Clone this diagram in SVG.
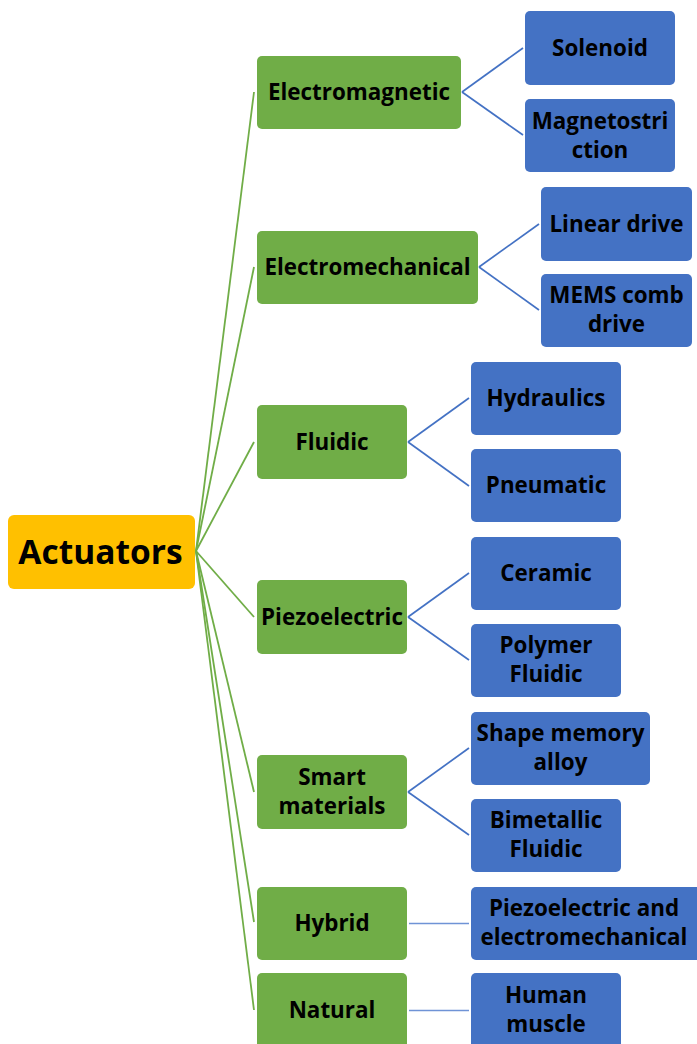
<svg xmlns="http://www.w3.org/2000/svg" width="697" height="1044" viewBox="0 0 697 1044">
  <style>
    text { font-family: "Open Sans", "Noto Sans", "Liberation Sans", sans-serif; font-weight: 700; fill: #000; text-anchor: middle; }
    .lbl { font-size: 22.4px; }
    .root-lbl { font-size: 33.5px; }
    .root { fill: #FFC000; }
    .cat { fill: #70AD47; }
    .leaf { fill: #4472C4; }
    .link-g { stroke: #70AD47; stroke-width: 1.8; fill: none; }
    .link-b { stroke: #4472C4; stroke-width: 1.7; fill: none; }
    .link-h { stroke: #6F93D6; stroke-width: 1.3; fill: none; }
  </style>
  <rect width="697" height="1044" fill="#ffffff"/>

  <!-- connectors -->
  <g id="connectors">
    <line class="link-g" x1="196" y1="551" x2="254" y2="92"/>
    <line class="link-g" x1="196" y1="551" x2="254" y2="267"/>
    <line class="link-g" x1="196" y1="551" x2="254" y2="442"/>
    <line class="link-g" x1="196" y1="551" x2="254" y2="617"/>
    <line class="link-g" x1="196" y1="551" x2="254" y2="792"/>
    <line class="link-g" x1="196" y1="551" x2="254" y2="922"/>
    <line class="link-g" x1="196" y1="551" x2="254" y2="1010"/>

    <line class="link-b" x1="462" y1="92" x2="523" y2="48"/>
    <line class="link-b" x1="462" y1="92" x2="523" y2="135"/>
    <line class="link-b" x1="479" y1="267" x2="539" y2="224"/>
    <line class="link-b" x1="479" y1="267" x2="539" y2="310"/>
    <line class="link-b" x1="408" y1="442" x2="469" y2="398"/>
    <line class="link-b" x1="408" y1="442" x2="469" y2="486"/>
    <line class="link-b" x1="408" y1="617" x2="469" y2="573"/>
    <line class="link-b" x1="408" y1="617" x2="469" y2="660"/>
    <line class="link-b" x1="408" y1="792" x2="469" y2="748"/>
    <line class="link-b" x1="408" y1="792" x2="469" y2="835"/>
    <line class="link-h" x1="409" y1="923.5" x2="469" y2="923.5"/>
    <line class="link-h" x1="409" y1="1010.5" x2="469" y2="1010.5"/>
  </g>

  <!-- root -->
  <g id="actuators">
    <rect class="root" x="8" y="515" width="187" height="74" rx="6"/>
    <text class="root-lbl" x="100.5" y="563.5">Actuators</text>
  </g>

  <!-- categories -->
  <g id="electromagnetic">
    <rect class="cat" x="257" y="56" width="204" height="73" rx="5"/>
    <text class="lbl" x="359" y="100">Electromagnetic</text>
  </g>
  <g id="electromechanical">
    <rect class="cat" x="257" y="231" width="221" height="73" rx="5"/>
    <text class="lbl" x="367.5" y="275">Electromechanical</text>
  </g>
  <g id="fluidic">
    <rect class="cat" x="257" y="405" width="150" height="74" rx="5"/>
    <text class="lbl" x="332" y="449.5">Fluidic</text>
  </g>
  <g id="piezoelectric">
    <rect class="cat" x="257" y="580" width="150" height="74" rx="5"/>
    <text class="lbl" x="332" y="624.5">Piezoelectric</text>
  </g>
  <g id="smart-materials">
    <rect class="cat" x="257" y="755" width="150" height="74" rx="5"/>
    <text class="lbl" x="332" y="785">Smart</text>
    <text class="lbl" x="332" y="814">materials</text>
  </g>
  <g id="hybrid">
    <rect class="cat" x="257" y="887" width="150" height="73" rx="5"/>
    <text class="lbl" x="332" y="931">Hybrid</text>
  </g>
  <g id="natural">
    <rect class="cat" x="257" y="973" width="150" height="80" rx="5"/>
    <text class="lbl" x="332" y="1017.5">Natural</text>
  </g>

  <!-- leaves -->
  <g id="solenoid">
    <rect class="leaf" x="525" y="11" width="150" height="74" rx="5"/>
    <text class="lbl" x="600" y="55.5">Solenoid</text>
  </g>
  <g id="magnetostriction">
    <rect class="leaf" x="525" y="99" width="150" height="73" rx="5"/>
    <text class="lbl" x="600" y="128.5">Magnetostri</text>
    <text class="lbl" x="600" y="157.5">ction</text>
  </g>
  <g id="linear-drive">
    <rect class="leaf" x="541" y="187" width="151" height="74" rx="5"/>
    <text class="lbl" x="616.5" y="231.5">Linear drive</text>
  </g>
  <g id="mems-comb-drive">
    <rect class="leaf" x="541" y="274" width="151" height="73" rx="5"/>
    <text class="lbl" x="616.5" y="303">MEMS comb</text>
    <text class="lbl" x="616.5" y="332">drive</text>
  </g>
  <g id="hydraulics">
    <rect class="leaf" x="471" y="362" width="150" height="73" rx="5"/>
    <text class="lbl" x="546" y="405.5">Hydraulics</text>
  </g>
  <g id="pneumatic">
    <rect class="leaf" x="471" y="449" width="150" height="73" rx="5"/>
    <text class="lbl" x="546" y="493">Pneumatic</text>
  </g>
  <g id="ceramic">
    <rect class="leaf" x="471" y="537" width="150" height="73" rx="5"/>
    <text class="lbl" x="546" y="581">Ceramic</text>
  </g>
  <g id="polymer-fluidic">
    <rect class="leaf" x="471" y="624" width="150" height="73" rx="5"/>
    <text class="lbl" x="546" y="653">Polymer</text>
    <text class="lbl" x="546" y="682">Fluidic</text>
  </g>
  <g id="shape-memory-alloy">
    <rect class="leaf" x="471" y="712" width="179" height="73" rx="5"/>
    <text class="lbl" x="560.5" y="741">Shape memory</text>
    <text class="lbl" x="560.5" y="770">alloy</text>
  </g>
  <g id="bimetallic-fluidic">
    <rect class="leaf" x="471" y="799" width="150" height="73" rx="5"/>
    <text class="lbl" x="546" y="828">Bimetallic</text>
    <text class="lbl" x="546" y="857">Fluidic</text>
  </g>
  <g id="piezo-electromechanical">
    <rect class="leaf" x="471" y="887" width="232" height="73" rx="5"/>
    <text class="lbl" x="584" y="916">Piezoelectric and</text>
    <text class="lbl" x="584" y="945">electromechanical</text>
  </g>
  <g id="human-muscle">
    <rect class="leaf" x="471" y="973" width="150" height="80" rx="5"/>
    <text class="lbl" x="546" y="1003">Human</text>
    <text class="lbl" x="546" y="1032">muscle</text>
  </g>
</svg>
